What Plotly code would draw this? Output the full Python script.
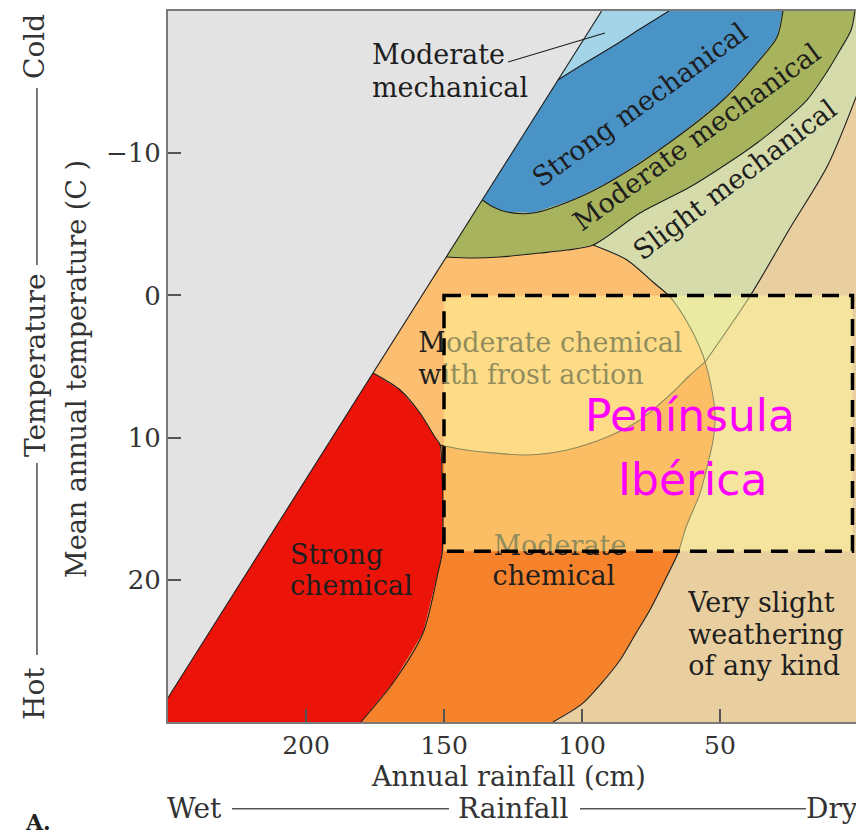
import plotly.graph_objects as go

# ---------------- axis ticks ----------------
rain_ticks = [200, 150, 100, 50]
rain_ticktext = ["200", "150", "100", "50"]
temp_ticks = [-10, 0, 10, 20]
temp_ticktext = ["\u221210", "0", "10", "20"]

# ---------------- boundary curves (annual rainfall cm, mean annual temperature C) ----------------
# straight left boundary of the weathering field (top -> bottom-left)
diag_rain = [92.9, 108.7, 136.1, 149.2, 175.7, 250.0]
diag_temp = [-20.0, -15.15, -6.71, -2.70, 5.46, 28.29]

# light-blue / strong mechanical boundary
lb_rain = [68.5, 79.0, 88.0, 98.9, 108.7]
lb_temp = [-20.0, -18.73, -17.61, -16.34, -15.15]

# strong mechanical outer edge
bo_rain = [27.2, 29.3, 36.6, 48.9, 67.0, 88.8, 103.3, 117.8, 127.2, 132.2, 136.1]
bo_temp = [-20.0, -18.17, -16.34, -13.74, -10.93, -8.12, -6.71, -5.79, -5.87, -6.22, -6.71]

# moderate mechanical outer edge
oo_rain = [1.1, 2.5, 6.5, 12.0, 18.5, 27.2, 36.6, 48.2, 60.9, 79.0, 96.0, 105.4, 115.2, 129.7, 139.5, 149.2]
oo_temp = [-20.0, -18.66, -17.26, -15.50, -13.74, -12.19, -10.72, -9.17, -7.62, -5.79, -3.54, -3.19, -2.98, -2.70, -2.63, -2.70]

# slight mechanical / very slight boundary
tl_rain = [0.0, 10.9, 24.6, 39.1, 55.4]
tl_temp = [-14.30, -9.17, -4.74, 0.04, 4.68]

# chemical weathering outer circle
bc_rain = [96.0, 83.7, 74.3, 68.1, 60.9, 56.5, 55.4, 53.3, 51.8, 52.5, 54.7, 57.2, 62.3, 65.2, 69.9, 75.4, 80.8, 86.2, 93.5, 100.0, 110.5]
bc_temp = [-3.54, -2.49, -0.94, 0.11, 2.22, 4.05, 4.68, 6.30, 8.27, 10.17, 12.07, 13.90, 16.29, 18.12, 20.01, 22.12, 23.88, 25.64, 27.40, 28.73, 30.0]

# frost action lower arc
fa_rain = [151.4, 144.2, 135.9, 119.9, 105.4, 90.9, 79.0, 67.0, 61.6, 55.4]
fa_temp = [10.52, 10.80, 11.01, 11.22, 10.87, 9.96, 8.76, 6.79, 5.74, 4.68]

# strong chemical edge
rc_rain = [175.7, 165.9, 158.7, 153.3, 151.4, 150.7, 150.4, 150.7, 152.2, 157.6, 168.5, 180.1]
rc_temp = [5.46, 6.65, 8.27, 9.96, 10.52, 12.77, 15.09, 18.12, 19.52, 23.74, 27.26, 30.0]

# Iberian Peninsula box
iberia_rain = [150.0, 2.0]
iberia_temp = [0.0, 18.0]

# leader line of the small "Moderate mechanical" label
leader_rain = [126.8, 91.7]
leader_temp = [-16.41, -18.45]

RAIN_RANGE = [250, 0]
TEMP_RANGE = [30, -20]


def pts(xs, ys):
    return list(zip(xs, ys))


diag = pts(diag_rain, diag_temp)
lb = pts(lb_rain, lb_temp)
bo = pts(bo_rain, bo_temp)
oo = pts(oo_rain, oo_temp)
tl = pts(tl_rain, tl_temp)
bc = pts(bc_rain, bc_temp)
fa = pts(fa_rain, fa_temp)
rc = pts(rc_rain, rc_temp)
R0, R1 = RAIN_RANGE[1], RAIN_RANGE[0]
T0, T1 = TEMP_RANGE[1], TEMP_RANGE[0]

rev = lambda s: list(reversed(s))

regions = [
    ("light_blue", "#a3d4e8", [diag[0]] + lb),
    ("strong_mech", "#4a93c7", bo + [diag[1]] + rev(lb)),
    ("mod_mech", "#a8b45d", oo + [diag[2]] + rev(bo)),
    ("slight_mech", "#d5dbaa", [(R0, T0)] + tl + rev(bc[0:7]) + rev(oo[0:11])),
    ("frost", "#fcbf72", oo[10:] + [diag[4]] + rc[1:5] + fa[1:] + rev(bc[1:6])),
    ("strong_chem", "#ec1409", [diag[4], diag[5], (R1, T1)] + rev(rc)),
    ("mod_chem", "#f7822c", rc[4:] + rev(bc[6:]) + rev(fa)),
    ("very_slight", "#e9cfa0", [(R0, tl_temp[0]), (R0, T1)] + rev(bc[6:]) + rev(tl)),
]

fig = go.Figure()
for name, color, poly in regions:
    xs = [p[0] for p in poly]
    ys = [p[1] for p in poly]
    fig.add_trace(go.Scatter(x=xs, y=ys, fill="toself", fillcolor=color, mode="lines",
                             line=dict(width=0, color=color), hoverinfo="skip", name=name))

EDGE = "#1c1c1c"
fig.add_trace(go.Scatter(x=[diag_rain[0], diag_rain[-1]], y=[diag_temp[0], diag_temp[-1]], mode="lines",
                         line=dict(color=EDGE, width=1.1), hoverinfo="skip"))
for xs, ys in [(lb_rain, lb_temp), (bo_rain, bo_temp), (oo_rain, oo_temp), (tl_rain, tl_temp),
               (bc_rain, bc_temp), (fa_rain, fa_temp), (rc_rain, rc_temp)]:
    fig.add_trace(go.Scatter(x=xs, y=ys, mode="lines", line=dict(color=EDGE, width=1.1, shape="spline", smoothing=0.8),
                             hoverinfo="skip"))
fig.add_trace(go.Scatter(x=leader_rain, y=leader_temp, mode="lines", line=dict(color=EDGE, width=1.1), hoverinfo="skip"))

SERIF = "DejaVu Serif"
TXT = "#1e1e1e"
FS = 27

# left-aligned region labels (drawn under the Iberia overlay)
label_lines = [
    ("Moderate chemical", 159.3, 3.49),
    ("with frost action", 159.3, 5.74),
    ("Strong", 205.8, 18.40),
    ("chemical", 205.8, 20.58),
    ("Moderate", 132.1, 17.76),
    ("chemical", 132.4, 19.90),
    ("Very slight", 61.5, 21.77),
    ("weathering", 61.5, 24.02),
    ("of any kind", 61.5, 26.20),
]
fig.add_trace(go.Scatter(x=[l[1] for l in label_lines], y=[l[2] for l in label_lines],
                         text=[l[0] for l in label_lines], mode="text", textposition="middle right",
                         textfont=dict(family=SERIF, size=FS, color=TXT), hoverinfo="skip"))

fig.add_shape(type="rect", xref="x", yref="y", x0=iberia_rain[0], x1=iberia_rain[1],
              y0=iberia_temp[0], y1=iberia_temp[1], fillcolor="rgba(255,250,155,0.5)",
              line=dict(color="black", width=3.5, dash="17px,10px"), layer="above")

annotations = []
# rotated labels
for txt, x, y, ang in [("Strong mechanical", 79.0, -13.39, -36),
                       ("Moderate mechanical", 58.3, -11.14, -36),
                       ("Slight mechanical", 44.6, -8.12, -37)]:
    annotations.append(dict(text=txt, x=x, y=y, xref="x", yref="y", showarrow=False, textangle=ang,
                            xanchor="center", yanchor="middle",
                            font=dict(family=SERIF, size=FS, color=TXT)))
for txt, y in [("Moderate", -16.91), ("mechanical", -14.59)]:
    annotations.append(dict(text=txt, x=176.8, y=y, xref="x", yref="y", showarrow=False, xanchor="left",
                            yanchor="middle", font=dict(family=SERIF, size=FS, color=TXT)))
for txt, x, y in [("Península", 60.9, 8.48), ("Ibérica", 60.1, 12.98)]:
    annotations.append(dict(text=txt, x=x, y=y, xref="x", yref="y", showarrow=False,
                            xanchor="center", yanchor="middle",
                            font=dict(family="DejaVu Sans", size=44, color="#ff00ff")))

# axis titles and outer labels
OUT = "#333333"


def paper_text(text, x, y, size=27, angle=0, color=OUT):
    return dict(text=text, x=x, y=y, xref="paper", yref="paper", showarrow=False, textangle=angle,
                xanchor="center", yanchor="middle", font=dict(family=SERIF, size=size, color=color))


annotations += [
    paper_text("Annual rainfall (cm)", 0.494, -0.0760, 27),
    paper_text("Mean annual temperature (C )", -0.1319, 0.4965, 27, -90),
    paper_text("Cold", -0.1928, 0.9508, 28, -90),
    paper_text("Temperature", -0.1928, 0.5021, 28, -90),
    paper_text("Hot", -0.1928, 0.0408, 28, -90),
    paper_text("Wet", 0.0391, -0.122, 28),
    paper_text("Rainfall", 0.5, -0.122, 28),
    paper_text("Dry", 0.962, -0.122, 28),
    paper_text("<b>A.</b>", -0.188, -0.1405, 22, 0, "#222222"),
]

for (x0, y0, x1, y1) in [(-0.1899, 0.8917, -0.1899, 0.6428), (-0.1899, 0.3643, -0.1899, 0.0942),
                         (0.0928, -0.122, 0.4072, -0.122), (0.5971, -0.122, 0.9246, -0.122)]:
    fig.add_shape(type="line", xref="paper", yref="paper", x0=x0, y0=y0, x1=x1, y1=y1,
                  line=dict(color="#555555", width=1.6))

fig.update_layout(
    width=856, height=830,
    margin=dict(l=160, r=6, t=3, b=116),
    paper_bgcolor="white", plot_bgcolor="#e3e3e3",
    showlegend=False,
    annotations=annotations,
    xaxis=dict(range=RAIN_RANGE, tickvals=rain_ticks, ticktext=rain_ticktext, ticks="inside", ticklen=13,
               tickwidth=1.5, tickcolor="#555555", showgrid=False, zeroline=False, showline=True, mirror=True,
               linecolor="#7a7a7a", linewidth=2, ticklabelstandoff=0, automargin=False,
               tickfont=dict(family=SERIF, size=25, color=OUT)),
    yaxis=dict(range=TEMP_RANGE, tickvals=temp_ticks, ticktext=temp_ticktext, ticks="inside", ticklen=13,
               tickwidth=1.5, tickcolor="#555555", showgrid=False, zeroline=False, showline=True, mirror=True,
               linecolor="#7a7a7a", linewidth=2, ticklabelstandoff=0, automargin=False,
               tickfont=dict(family=SERIF, size=26, color=OUT)),
)

fig.write_html("out.html")
